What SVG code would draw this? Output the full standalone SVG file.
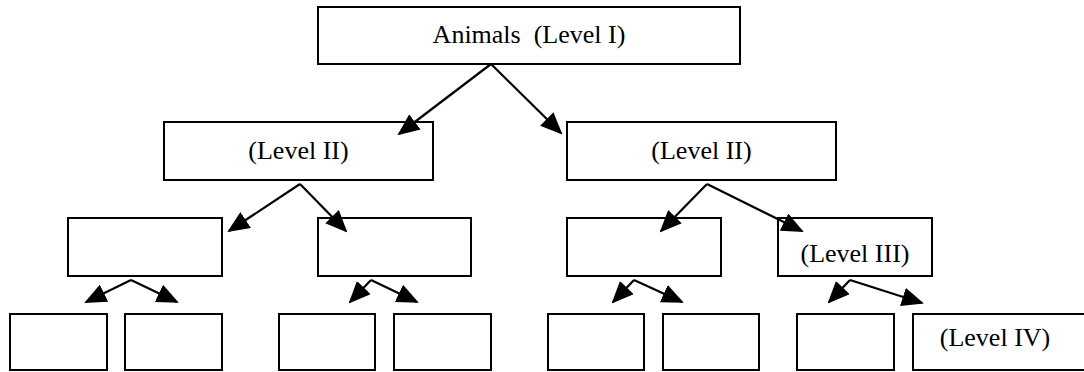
<svg xmlns="http://www.w3.org/2000/svg" width="1084" height="372" viewBox="0 0 1084 372">
  <style>
    .box { fill: #ffffff; stroke: #000000; stroke-width: 2; }
    .lbl { font-family: "Liberation Serif", "Times New Roman", serif; font-size: 26px; fill: #000000; text-anchor: middle; white-space: pre; }
    .edge { stroke: #000000; stroke-width: 2.2; fill: none; marker-end: url(#head); }
  </style>
  <defs>
    <marker id="head" markerUnits="userSpaceOnUse" markerWidth="22" markerHeight="19" viewBox="0 0 22 19" refX="20" refY="9.5" orient="auto">
      <path d="M0,0 L22,9.5 L0,19 Z" fill="#000000"/>
    </marker>
  </defs>
  <rect width="1084" height="372" fill="#ffffff"/>

  <!-- Level I -->
  <g id="animals">
    <rect class="box" x="318" y="7" width="422" height="57"/>
    <text class="lbl" x="529" y="43" xml:space="preserve">Animals  (Level I)</text>
  </g>

  <!-- Level II -->
  <g id="level2-left">
    <rect class="box" x="164" y="122" width="269" height="58"/>
    <text class="lbl" x="298.5" y="159">(Level II)</text>
  </g>
  <g id="level2-right">
    <rect class="box" x="567" y="122" width="269" height="58"/>
    <text class="lbl" x="701.5" y="159">(Level II)</text>
  </g>

  <!-- Level III -->
  <g id="level3-a"><rect class="box" x="68" y="218" width="154" height="58"/></g>
  <g id="level3-b"><rect class="box" x="318" y="218" width="153" height="58"/></g>
  <g id="level3-c"><rect class="box" x="567" y="218" width="154" height="58"/></g>
  <g id="level3-d">
    <rect class="box" x="778" y="218" width="154" height="58"/>
    <text class="lbl" x="855" y="262">(Level III)</text>
  </g>

  <!-- Level IV -->
  <g id="level4-a"><rect class="box" x="10" y="314" width="97" height="56"/></g>
  <g id="level4-b"><rect class="box" x="125" y="314" width="97" height="56"/></g>
  <g id="level4-c"><rect class="box" x="279" y="314" width="96" height="56"/></g>
  <g id="level4-d"><rect class="box" x="394" y="314" width="97" height="56"/></g>
  <g id="level4-e"><rect class="box" x="548" y="314" width="96" height="56"/></g>
  <g id="level4-f"><rect class="box" x="663" y="314" width="96" height="56"/></g>
  <g id="level4-g"><rect class="box" x="797" y="314" width="97" height="56"/></g>
  <g id="level4-h">
    <rect class="box" x="913" y="314" width="180" height="56"/>
    <text class="lbl" x="995" y="346">(Level IV)</text>
  </g>

  <!-- connectors -->
  <g id="connectors">
    <line class="edge" x1="491" y1="64" x2="399" y2="134"/>
    <line class="edge" x1="491" y1="64" x2="561" y2="133"/>

    <line class="edge" x1="300" y1="184" x2="229" y2="231"/>
    <line class="edge" x1="300" y1="184" x2="346" y2="231"/>
    <line class="edge" x1="707" y1="184" x2="661" y2="231"/>
    <line class="edge" x1="707" y1="184" x2="802" y2="231"/>

    <line class="edge" x1="131" y1="280" x2="86" y2="302"/>
    <line class="edge" x1="131" y1="280" x2="177" y2="302"/>
    <line class="edge" x1="371" y1="280" x2="350" y2="302"/>
    <line class="edge" x1="371" y1="280" x2="417" y2="302"/>
    <line class="edge" x1="634" y1="280" x2="613" y2="302"/>
    <line class="edge" x1="634" y1="280" x2="682" y2="302"/>
    <line class="edge" x1="850" y1="280" x2="829" y2="302"/>
    <line class="edge" x1="850" y1="280" x2="922" y2="303"/>
  </g>
</svg>
